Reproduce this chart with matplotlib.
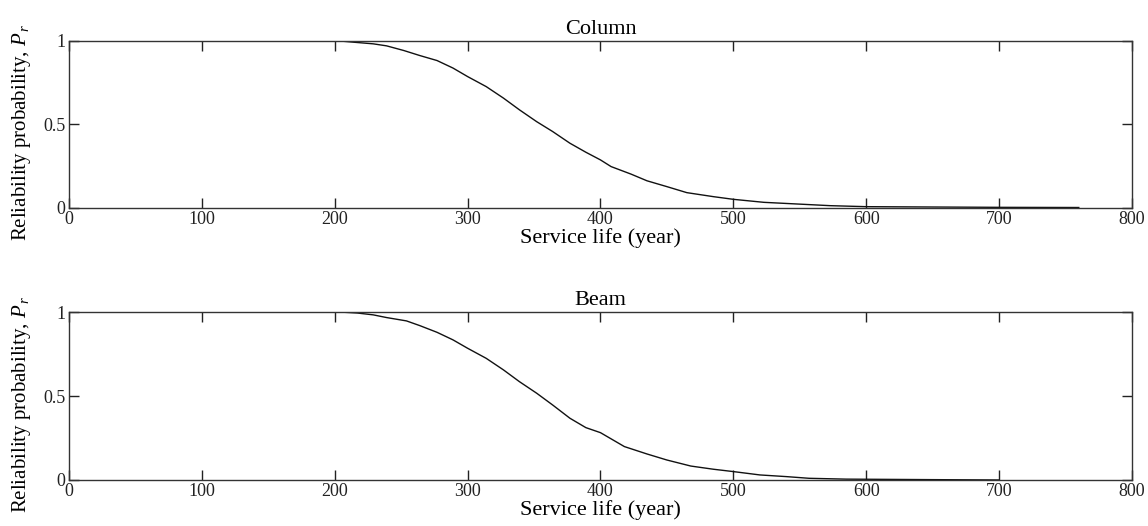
import matplotlib
matplotlib.use("Agg")
import matplotlib.pyplot as plt

plt.rcParams["font.family"] = "Liberation Serif"
plt.rcParams["mathtext.fontset"] = "custom"
plt.rcParams["mathtext.rm"] = "Liberation Serif"
plt.rcParams["mathtext.it"] = "Liberation Serif:italic"

# ── Reliability curves read per member ────────────────────────
col_years = [200, 214, 229, 239, 252, 264, 277, 289, 300, 314, 327, 339, 352,
             364, 377, 389, 400, 408, 423, 435, 450, 465, 485, 500, 523, 548,
             573, 600, 650, 700, 760]
col_pr = [1.0, 0.99, 0.98, 0.968, 0.94, 0.91, 0.88, 0.835, 0.784, 0.724,
          0.655, 0.585, 0.514, 0.455, 0.385, 0.331, 0.285, 0.245, 0.20, 0.16,
          0.125, 0.089, 0.065, 0.049, 0.031, 0.021, 0.011, 0.005, 0.003,
          0.001, 0.0]

beam_years = [206, 217, 229, 239, 254, 264, 277, 289, 300, 314, 327, 339,
              352, 364, 377, 389, 400, 418, 435, 450, 468, 485, 500, 520,
              540, 557, 585, 650, 700]
beam_pr = [1.0, 0.995, 0.984, 0.968, 0.948, 0.92, 0.88, 0.835, 0.785, 0.725,
           0.656, 0.586, 0.517, 0.447, 0.368, 0.312, 0.282, 0.199, 0.155,
           0.119, 0.083, 0.064, 0.050, 0.030, 0.020, 0.010, 0.005, 0.002, 0.0]

x_ticks = [0, 100, 200, 300, 400, 500, 600, 700, 800]
y_ticks = [0, 0.5, 1]
y_ticklabels = ["0", "0.5", "1"]

fig = plt.figure(figsize=(11.48, 5.26), dpi=100)
ax_col = fig.add_axes([0.0601, 0.6055, 0.9259, 0.3175])
ax_beam = fig.add_axes([0.0601, 0.0875, 0.9259, 0.3190])

for ax, years, pr, title in [(ax_col, col_years, col_pr, "Column"),
                              (ax_beam, beam_years, beam_pr, "Beam")]:
    ax.plot(years, pr, color="#111111", lw=1.0)
    ax.set_xlim(0, 800)
    ax.set_ylim(0, 1)
    ax.set_xticks(x_ticks)
    ax.set_yticks(y_ticks)
    ax.set_yticklabels(y_ticklabels)
    ax.tick_params(direction="in", length=7.5, width=1.0, top=True,
                   right=True, labelsize=13, pad=2.5, colors="#222222")
    for s in ax.spines.values():
        s.set_linewidth(1.0)
        s.set_color("#333333")
    ax.set_title(title, fontsize=16, pad=5)
    ax.set_xlabel("Service life (year)", fontsize=16, labelpad=0)
    ax.set_ylabel(r"Reliability probability, $P_{\,r}$", fontsize=15)
    ax.yaxis.set_label_coords(-0.034, 0.45)

fig.savefig("out.png", dpi=100)
